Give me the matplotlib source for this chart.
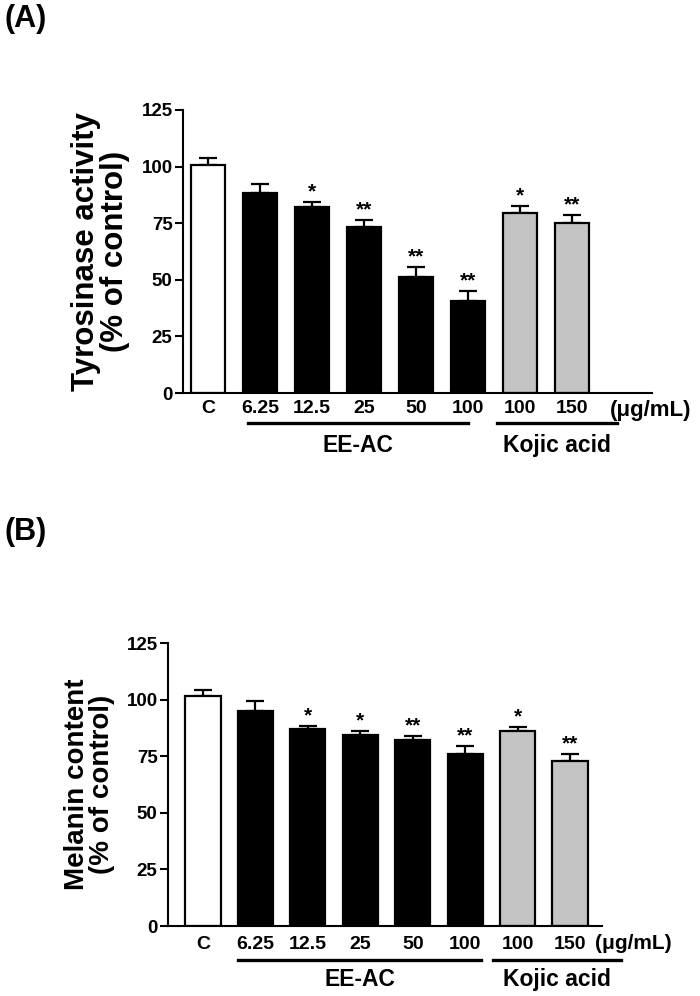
import numpy as np
import matplotlib.pyplot as plt
from matplotlib.transforms import blended_transform_factory

plt.rcParams["font.family"] = ["Liberation Sans", "DejaVu Sans"]
plt.rcParams["font.weight"] = "bold"

# =========================
# DATA
# =========================
labels = ["C", "6.25", "12.5", "25", "50", "100", "100", "150"]
bar_colors = ["white"] + ["black"] * 5 + ["#c4c4c4"] * 2

tyr_mean = [100.5, 88.3, 82.1, 73.3, 51.2, 40.6, 79.5, 75.0]
tyr_err = [3.3, 4.2, 2.4, 3.0, 4.4, 4.5, 3.0, 3.6]
tyr_sig = ["", "", "*", "**", "**", "**", "*", "**"]

mel_mean = [101.7, 94.8, 87.0, 84.5, 82.0, 75.8, 86.1, 73.0]
mel_err = [2.7, 4.6, 1.2, 1.8, 1.8, 3.6, 1.9, 3.1]
mel_sig = ["", "", "*", "*", "**", "**", "*", "**"]

groups_a = [("EE-AC", 0.77, 5.0), ("Kojic acid", 5.56, 7.87)]
groups_b = [("EE-AC", 0.67, 5.31), ("Kojic acid", 5.54, 7.98)]


def panel(ax, mean, err, sig, ylabel, ylab_size, xlim, grp, unit_x, unit_size,
          line_y, text_y, tick_pad):
    x = np.arange(len(mean))
    ax.bar(x, mean, width=0.67, color=bar_colors, edgecolor="black",
           linewidth=1.6, zorder=2)
    ax.errorbar(x, mean, yerr=[np.zeros(len(err)), err], fmt="none",
                ecolor="black", elinewidth=1.6, capsize=6.5, capthick=1.6, zorder=1)
    for xi, m, e, s in zip(x, mean, err, sig):
        if s:
            ax.text(xi, m + e + 0.3, s, ha="center", va="bottom",
                    fontsize=15, fontweight="bold")
    ax.set_ylim(0, 125)
    ax.set_xlim(*xlim)
    ax.set_yticks([0, 25, 50, 75, 100, 125])
    ax.set_xticks(x)
    ax.set_xticklabels(labels)
    ax.tick_params(axis="x", length=0, pad=tick_pad, labelsize=14)
    ax.tick_params(axis="y", length=6, width=1.5, pad=1.5, labelsize=13.5)
    for sp in ["top", "right"]:
        ax.spines[sp].set_visible(False)
    for sp in ["left", "bottom"]:
        ax.spines[sp].set_linewidth(1.5)
    ax.set_ylabel(ylabel, fontsize=ylab_size, fontweight="bold", labelpad=8,
                  linespacing=0.95)
    tr = blended_transform_factory(ax.transData, ax.transAxes)
    for name, x0, x1 in grp:
        ax.plot([x0, x1], [line_y, line_y], color="black", lw=2.4,
                transform=tr, clip_on=False)
        ax.text((x0 + x1) / 2, text_y, name, transform=tr, ha="center",
                va="center", fontsize=16.5, fontweight="bold")
    ax.text(unit_x, -0.062, "(\u03bcg/mL)", transform=tr, ha="left",
            va="center", fontsize=unit_size, fontweight="bold")


fig = plt.figure(figsize=(7.0, 9.96), dpi=100)

ax1 = fig.add_axes([183 / 700, 1 - 393 / 996, (652 - 183) / 700, 283 / 996])
panel(ax1, tyr_mean, tyr_err, tyr_sig, "Tyrosinase activity\n(% of control)",
      22.5, (-0.48, 8.54), groups_a, 7.73, 16, -0.106, -0.184, 5)

ax2 = fig.add_axes([168 / 700, 1 - 926 / 996, (602 - 168) / 700, 283 / 996])
panel(ax2, mel_mean, mel_err, mel_sig, "Melanin content\n(% of control)",
      20, (-0.667, 7.61), groups_b, 7.47, 15, -0.12, -0.19, 7)

fig.text(0.007, 0.981, "(A)", fontsize=22, fontweight="bold", va="center")
fig.text(0.007, 0.466, "(B)", fontsize=22, fontweight="bold", va="center")

fig.savefig("out.png", dpi=100)
